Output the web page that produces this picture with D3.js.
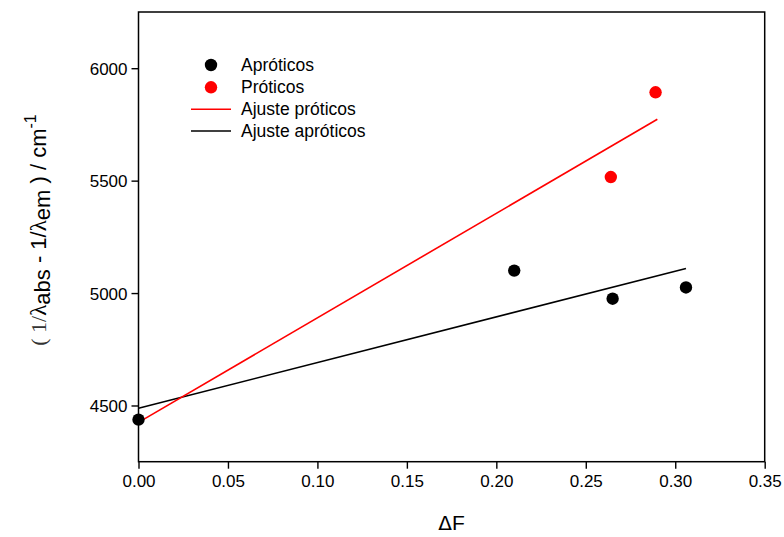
<!DOCTYPE html>
<html>
<head>
<meta charset="utf-8">
<script src="https://cdn.jsdelivr.net/npm/d3@7"></script>
<style>
  html, body { margin: 0; padding: 0; background: #fff; }
  svg { display: block; font-family: "Liberation Sans", Arial, sans-serif; }
</style>
</head>
<body>
<svg id="chart" width="784" height="537"></svg>
<script>
// Aprotic solvents: Stokes shift vs. orientation polarizability
const aproticDF = [0.000, 0.210, 0.265, 0.306];
const aproticShift = [4437, 5100, 4975, 5025];

// Protic solvents
const proticDF = [0.264, 0.289];
const proticShift = [5516, 5893];

// Linear fit end points
const fitProticDF = [0.000, 0.290];
const fitProticShift = [4425, 5773];
const fitAproticDF = [0.000, 0.306];
const fitAproticShift = [4488, 5109];

const xTicks = [0, 0.05, 0.10, 0.15, 0.20, 0.25, 0.30, 0.35];
const yTicks = [4500, 5000, 5500, 6000];

const legendLabels = ["Apróticos", "Próticos", "Ajuste próticos", "Ajuste apróticos"];

const svg = d3.select("#chart");
const plotLeft = 138.5, plotRight = 764.7, plotTop = 12, plotBottom = 461.7;

const x = d3.scaleLinear().domain([0, 0.35]).range([plotLeft, plotRight]);
const y = d3.scaleLinear().domain([4250, 6250]).range([plotBottom, plotTop]);

// Axes
const xAxis = svg.append("g")
  .attr("transform", `translate(0,${plotBottom})`)
  .call(d3.axisBottom(x).tickValues(xTicks).tickFormat(d3.format(".2f")).tickSize(7).tickPadding(6));
const yAxis = svg.append("g")
  .attr("transform", `translate(${plotLeft},0)`)
  .call(d3.axisLeft(y).tickValues(yTicks).tickFormat(d3.format("d")).tickSize(7).tickPadding(4));

[xAxis, yAxis].forEach(g => {
  g.select(".domain").remove();
  g.selectAll(".tick line").attr("stroke", "#000").attr("stroke-width", 1.4);
  g.selectAll(".tick text")
    .attr("fill", "#000")
    .style("font-family", "'Liberation Sans', Arial, sans-serif")
    .style("font-size", "17px");
});
xAxis.selectAll(".tick text").attr("dy", "0.71em");
yAxis.selectAll(".tick text").attr("dy", "0.35em");

// Plot frame
svg.append("rect")
  .attr("x", plotLeft).attr("y", plotTop)
  .attr("width", plotRight - plotLeft).attr("height", plotBottom - plotTop)
  .attr("fill", "none").attr("stroke", "#000").attr("stroke-width", 1.5);

// Fit lines
const line = d3.line().x(d => x(d[0])).y(d => y(d[1]));
svg.append("path")
  .datum(d3.zip(fitAproticDF, fitAproticShift))
  .attr("d", line).attr("fill", "none").attr("stroke", "#000").attr("stroke-width", 1.6);
svg.append("path")
  .datum(d3.zip(fitProticDF, fitProticShift))
  .attr("d", line).attr("fill", "none").attr("stroke", "#ff0000").attr("stroke-width", 1.6);

// Data points
svg.append("g").selectAll("circle")
  .data(d3.zip(aproticDF, aproticShift))
  .join("circle")
  .attr("cx", d => x(d[0])).attr("cy", d => y(d[1])).attr("r", 6.2)
  .attr("fill", "#000");
svg.append("g").selectAll("circle")
  .data(d3.zip(proticDF, proticShift))
  .join("circle")
  .attr("cx", d => x(d[0])).attr("cy", d => y(d[1])).attr("r", 6.2)
  .attr("fill", "#ff0000");

// Legend
const legend = svg.append("g");
const rowY = [65, 87.3, 109.2, 131];
const symX = 211, textX = 241;
legend.append("circle").attr("cx", symX).attr("cy", rowY[0]).attr("r", 6.2).attr("fill", "#000");
legend.append("circle").attr("cx", symX).attr("cy", rowY[1]).attr("r", 6.2).attr("fill", "#ff0000");
legend.append("line").attr("x1", 191).attr("x2", 231).attr("y1", rowY[2]).attr("y2", rowY[2])
  .attr("stroke", "#ff0000").attr("stroke-width", 1.5);
legend.append("line").attr("x1", 191).attr("x2", 231).attr("y1", rowY[3]).attr("y2", rowY[3])
  .attr("stroke", "#000").attr("stroke-width", 1.5);
legend.selectAll("text")
  .data(legendLabels)
  .join("text")
  .attr("x", textX).attr("y", (d, i) => rowY[i] + 6)
  .style("font-size", "17.5px").attr("fill", "#000")
  .text(d => d);

// X axis title
const xTitle = svg.append("text")
  .attr("x", (plotLeft + plotRight) / 2).attr("y", 530)
  .attr("text-anchor", "middle")
  .style("font-size", "21px").attr("fill", "#000");
xTitle.append("tspan").style("font-family", "'DejaVu Sans', sans-serif").style("font-size", "20px").text("Δ");
xTitle.append("tspan").text("F");

// Y axis title with subscripts and superscript
const yTitle = svg.append("text")
  .attr("transform", "translate(46,230) rotate(-90)")
  .attr("text-anchor", "middle")
  .style("font-size", "22px").attr("fill", "#000");
yTitle.append("tspan").style("font-family", "'Liberation Serif', serif").attr("fill", "#333").text("( 1/");
yTitle.append("tspan").style("font-family", "'Liberation Serif', serif").style("font-size", "23px").text("λ");
yTitle.append("tspan").attr("dy", 4).text("abs");
yTitle.append("tspan").attr("dy", -4).text(" - 1/");
yTitle.append("tspan").style("font-family", "'Liberation Serif', serif").style("font-size", "23px").text("λ");
yTitle.append("tspan").attr("dy", 4).text("em");
yTitle.append("tspan").attr("dy", -4).text(" ) / cm");
yTitle.append("tspan").attr("dy", -10).style("font-size", "16px").text("-1");
</script>
</body>
</html>
